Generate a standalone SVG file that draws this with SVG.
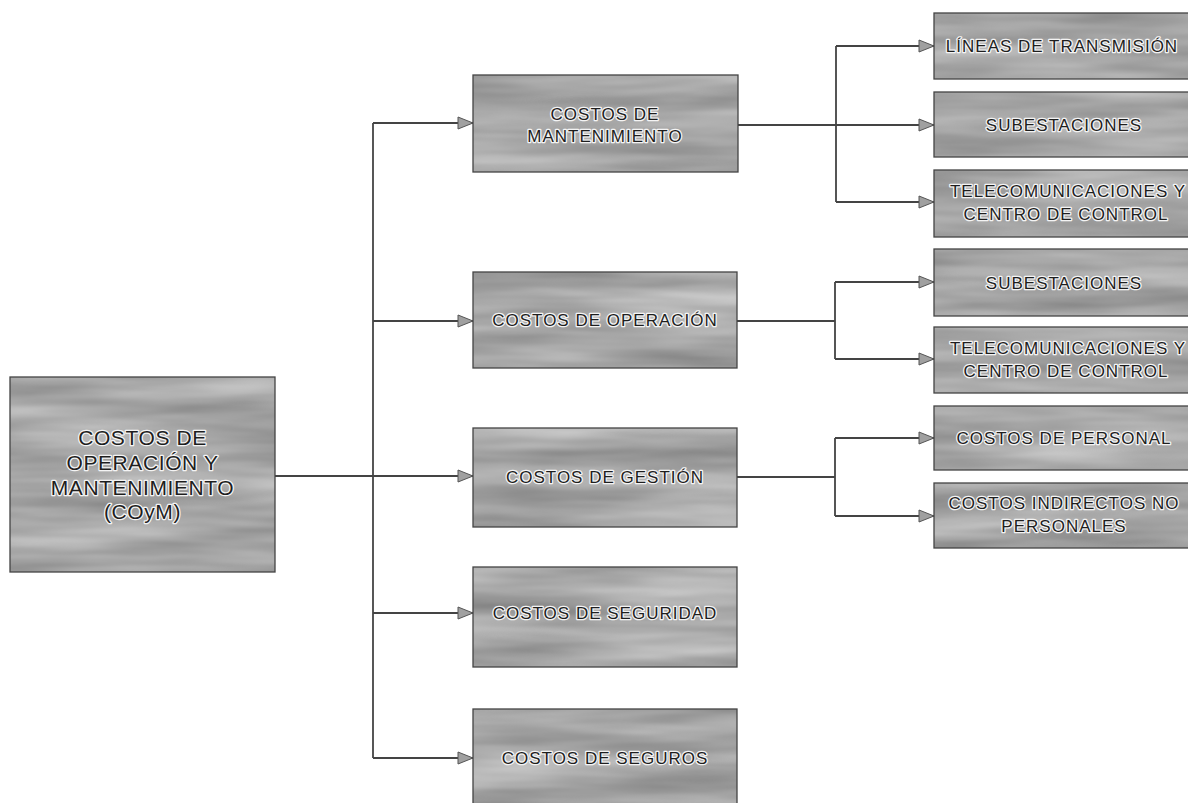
<svg xmlns="http://www.w3.org/2000/svg" width="1188" height="803" viewBox="0 0 1188 803">
<style>
.bg{fill:#a8a8a8;filter:url(#tex)}
.bd{fill:none;stroke:#444;stroke-width:1.3}
.t{font-family:"Liberation Sans",Arial,sans-serif;font-size:17px;letter-spacing:1px;fill:#1e1e1e;stroke:#f4f4f4;stroke-width:2.6;stroke-linejoin:round;paint-order:stroke;text-anchor:middle}
.tr{font-size:21px;letter-spacing:0.6px}
.c{fill:none;stroke:#444;stroke-width:1.8}
.a{marker-end:url(#ah)}
</style>
<defs>
<filter id="tex" x="0" y="0" width="100%" height="100%" color-interpolation-filters="sRGB">
<feTurbulence type="fractalNoise" baseFrequency="0.005 0.045" numOctaves="3" seed="7" result="n"/>
<feColorMatrix in="n" type="matrix" values="0.34 0 0 0 0.48  0.34 0 0 0 0.48  0.34 0 0 0 0.48  0 0 0 0 1" result="g"/>
<feComposite in="g" in2="SourceGraphic" operator="in"/>
</filter>
<marker id="ah" markerUnits="userSpaceOnUse" markerWidth="18" markerHeight="14" refX="16" refY="7" orient="auto">
<path d="M1,1 L16,7 L1,13 Z" fill="#a0a0a0" stroke="#555" stroke-width="1"/>
</marker>
</defs>
<rect width="1188" height="803" fill="#fff"/>
<g id="connectors">
<path class="c a" d="M275,476 H473"/>
<path class="c" d="M373,123 V758"/>
<path class="c a" d="M373,123 H473"/>
<path class="c a" d="M373,321 H473"/>
<path class="c a" d="M373,613 H473"/>
<path class="c a" d="M373,758 H473"/>
<path class="c" d="M738,125 H836 M836,46 V202 M835,321 H737 M835,282 V359 M737,477 H835 M835,438 V516"/>
<path class="c a" d="M836,46 H934"/>
<path class="c a" d="M836,125 H934"/>
<path class="c a" d="M836,202 H934"/>
<path class="c a" d="M835,282 H934"/>
<path class="c a" d="M835,359 H934"/>
<path class="c a" d="M835,438 H934"/>
<path class="c a" d="M835,516 H934"/>
</g>
<g id="root">
<rect class="bg" x="10" y="377" width="265" height="195"/><rect class="bd" x="10" y="377" width="265" height="195"/>
<text class="t tr" x="142.5" y="445">COSTOS DE</text>
<text class="t tr" x="142.5" y="470">OPERACIÓN Y</text>
<text class="t tr" x="142.5" y="495">MANTENIMIENTO</text>
<text class="t tr" x="142.5" y="519">(COyM)</text>
</g>
<g id="mantenimiento">
<rect class="bg" x="473" y="75" width="265" height="97"/><rect class="bd" x="473" y="75" width="265" height="97"/>
<text class="t" x="605" y="120">COSTOS DE</text>
<text class="t" x="605" y="142">MANTENIMIENTO</text>
</g>
<g id="operacion">
<rect class="bg" x="473" y="272" width="264" height="96"/><rect class="bd" x="473" y="272" width="264" height="96"/>
<text class="t" x="605" y="326">COSTOS DE OPERACIÓN</text>
</g>
<g id="gestion">
<rect class="bg" x="473" y="428" width="264" height="99"/><rect class="bd" x="473" y="428" width="264" height="99"/>
<text class="t" x="605" y="483">COSTOS DE GESTIÓN</text>
</g>
<g id="seguridad">
<rect class="bg" x="473" y="567" width="264" height="100"/><rect class="bd" x="473" y="567" width="264" height="100"/>
<text class="t" x="605" y="619">COSTOS DE SEGURIDAD</text>
</g>
<g id="seguros">
<rect class="bg" x="473" y="709" width="264" height="97"/><rect class="bd" x="473" y="709" width="264" height="97"/>
<text class="t" x="605" y="764">COSTOS DE SEGUROS</text>
</g>
<g id="lineas">
<rect class="bg" x="934" y="13" width="260" height="66"/><rect class="bd" x="934" y="13" width="260" height="66"/>
<text class="t" x="1062" y="52">LÍNEAS DE TRANSMISIÓN</text>
</g>
<g id="subestaciones1">
<rect class="bg" x="934" y="92" width="260" height="65"/><rect class="bd" x="934" y="92" width="260" height="65"/>
<text class="t" x="1064" y="131">SUBESTACIONES</text>
</g>
<g id="telecom1">
<rect class="bg" x="934" y="170" width="260" height="67"/><rect class="bd" x="934" y="170" width="260" height="67"/>
<text class="t" x="1068" y="197">TELECOMUNICACIONES Y</text>
<text class="t" x="1066" y="220">CENTRO DE CONTROL</text>
</g>
<g id="subestaciones2">
<rect class="bg" x="934" y="249" width="260" height="67"/><rect class="bd" x="934" y="249" width="260" height="67"/>
<text class="t" x="1064" y="289">SUBESTACIONES</text>
</g>
<g id="telecom2">
<rect class="bg" x="934" y="327" width="260" height="66"/><rect class="bd" x="934" y="327" width="260" height="66"/>
<text class="t" x="1068" y="354">TELECOMUNICACIONES Y</text>
<text class="t" x="1066" y="377">CENTRO DE CONTROL</text>
</g>
<g id="personal">
<rect class="bg" x="934" y="406" width="260" height="64"/><rect class="bd" x="934" y="406" width="260" height="64"/>
<text class="t" x="1064" y="444">COSTOS DE PERSONAL</text>
</g>
<g id="indirectos">
<rect class="bg" x="934" y="483" width="260" height="65"/><rect class="bd" x="934" y="483" width="260" height="65"/>
<text class="t" x="1064" y="509">COSTOS INDIRECTOS NO</text>
<text class="t" x="1064" y="532">PERSONALES</text>
</g>
</svg>
